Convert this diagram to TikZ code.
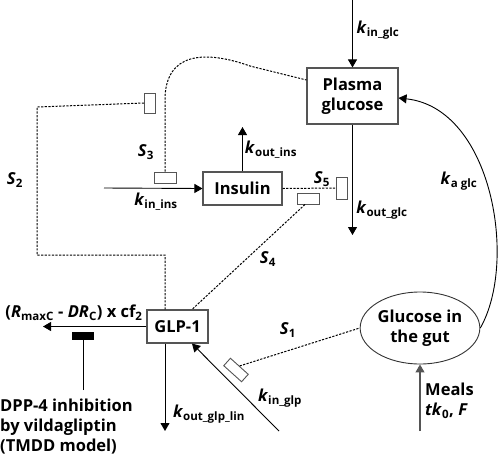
\documentclass[tikz,border=0pt]{standalone}
\usepackage{fontspec}
\setmainfont{Open Sans}
\usetikzlibrary{arrows.meta,calc,shapes.geometric}
\definecolor{lg}{HTML}{333333}
\definecolor{bx}{HTML}{555555}
\newcommand\kk[2]{\textit{#1}\textsubscript{#2}}
\begin{document}
\begin{tikzpicture}[x=1pt,y=-1pt,
  font=\bfseries\fontsize{16.5}{20}\selectfont,
  box/.style={draw=bx,line width=1.1pt,inner sep=0pt,align=center},
  arr/.style={-{Triangle[length=8pt,width=9pt]},line width=0.9pt,draw=black},
  dots/.style={dash pattern=on 2.2pt off 1.4pt,line width=1pt,draw=black},
  sig/.style={draw=bx,line width=0.9pt,inner sep=0pt,fill=white},
  lbl/.style={inner sep=0pt}]
\useasboundingbox (0,0) rectangle (501,459);
% main nodes
\node[box,minimum width=91pt,minimum height=56pt] (pg) at (352.5,96) {Plasma\\glucose};
\node[box,minimum width=79pt,minimum height=33pt] (ins) at (242.5,188.5) {Insulin};
\node[box,minimum width=61pt,minimum height=33pt] (glp) at (177.5,326.5) {GLP-1};
\node[draw=lg,line width=0.9pt,ellipse,minimum width=116pt,minimum height=72pt,inner sep=0pt,align=center] (ell) at (420,328) {Glucose in\\the gut};
% signal rectangles
\node[sig,minimum width=11pt,minimum height=20pt] (s2r) at (150,103) {};
\node[sig,minimum width=22pt,minimum height=11pt] (s3r) at (165,177.5) {};
\node[sig,minimum width=11pt,minimum height=22pt] (s5r) at (342,188) {};
\node[sig,minimum width=22pt,minimum height=11pt] (s4r) at (308,198.5) {};
\node[sig,minimum width=24pt,minimum height=10pt,rotate=-42] (s1r) at (236,370) {};
\node[fill=black,inner sep=0pt,minimum width=22pt,minimum height=8pt] (blk) at (83,336) {};
% free ends
\coordinate (inglc) at (352.5,0);
\coordinate (outglc) at (352.5,235);
\coordinate (outins) at (242.5,127);
\coordinate (inins) at (104,188);
\coordinate (leftend) at (43,326.5);
\coordinate (outglp) at (165,431);
\coordinate (inglp) at (279,431);
\coordinate (meal) at (420,431);
\coordinate (dpp) at (83,390);
% solid arrows
\draw[arr] (inglc) -- (pg.north);
\draw[arr] (pg.south) -- (outglc);
\draw[arr] (ins.north) -- (outins);
\draw[arr] (inins) -- (ins.west);
\draw[arr] (glp.west) -- (leftend);
\draw[arr] ([xshift=-12.5pt]glp.south) -- (outglp);
\draw[arr] (inglp) -- ([xshift=14.5pt]glp.south);
\draw[arr,draw=bx,line width=1.1pt] (meal) -- (ell.south);
\draw[arr] (ell.east) .. controls (518,262) and (492,108) .. ([yshift=-2pt]pg.east);
\draw[line width=0.9pt] (dpp) -- (blk.south);
% dotted signals
\draw[dots] (s2r.west) -- (37,107) -- (37,255) -- (165,255) -- ([xshift=-12.5pt]glp.north);
\draw[dots] (s3r.north) -- (165,100) .. controls (165,52) and (205,50) .. (250,66) -- ([yshift=16pt]pg.west);
\draw[dots] (ins.east) -- (s5r.west);
\draw[dots] ([xshift=-3pt]s4r.south) -- ([xshift=14.5pt]glp.north);
\draw[dots] (s1r.north) -- (ell.west);
% labels
\node[lbl] (l1) at (378,30) {\kk{k}{in\_glc}};
\node[lbl] (l2) at (382,210) {\kk{k}{out\_glc}};
\node[lbl] (l3) at (271,150) {\kk{k}{out\_ins}};
\node[lbl] (l4) at (156,202) {\kk{k}{in\_ins}};
\node[lbl] (l5) at (146,152) {\kk{S}{3}};
\node[lbl] (l6) at (15,180) {\kk{S}{2}};
\node[lbl] (l7) at (322,179) {\kk{S}{5}};
\node[lbl] (l8) at (459,181) {\kk{k}{a glc}};
\node[lbl] (l9) at (268,259) {\kk{S}{4}};
\node[lbl] (l10) at (288,330) {\kk{S}{1}};
\node[lbl] (l11) at (280,398) {\kk{k}{in\_glp}};
\node[lbl] (l12) at (209,414) {\kk{k}{out\_glp\_lin}};
\node[lbl] (l13) at (74,313) {(\kk{R}{maxC} - \textit{DR}\textsubscript{C}) x cf\textsubscript{2}};
\node[lbl,anchor=west,align=left] (l14) at (425,401) {Meals\\\textit{tk}\textsubscript{0}, \textit{F}};
\node[lbl,anchor=north west,align=left] (l15) at (0,399) {DPP-4 inhibition\\by vildagliptin\\(TMDD model)};
\end{tikzpicture}
\end{document}
